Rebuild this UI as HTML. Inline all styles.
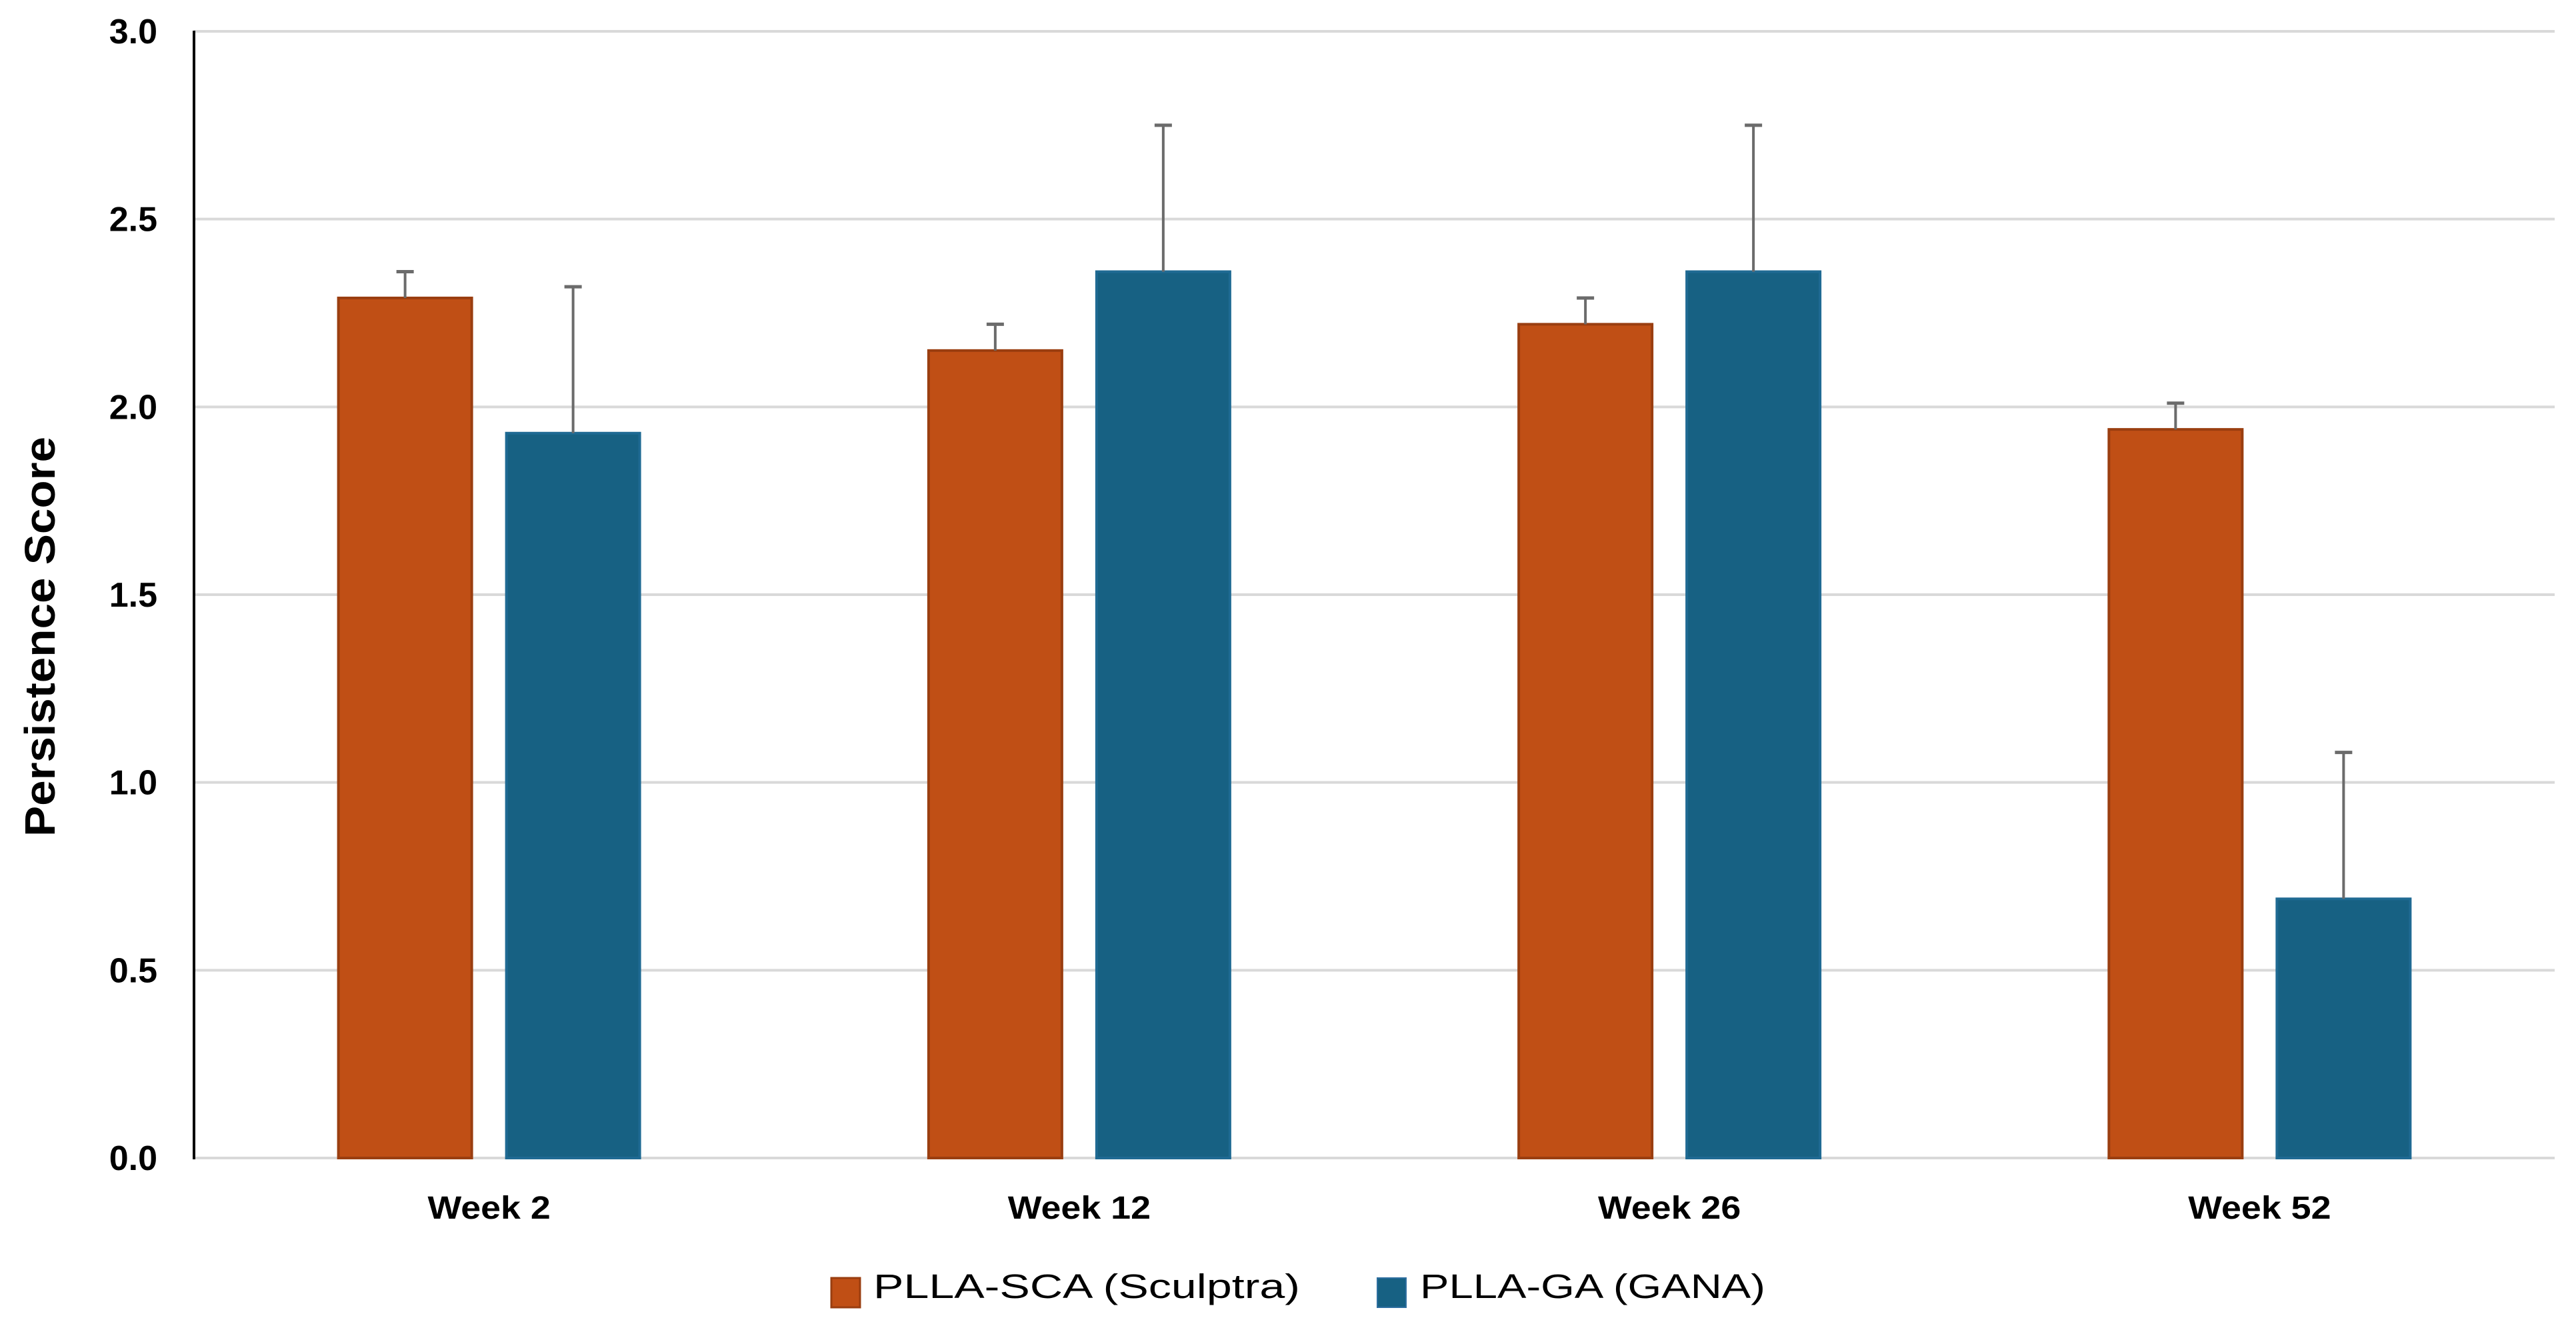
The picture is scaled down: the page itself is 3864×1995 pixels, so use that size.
<!DOCTYPE html>
<html><head><meta charset="utf-8"><style>
html,body{margin:0;padding:0;background:#fff;}
svg{display:block;font-family:"Liberation Sans",Arial,sans-serif;}
</style></head><body>
<svg id="chart" width="3864" height="1995" viewBox="0 0 3864 1995" xmlns="http://www.w3.org/2000/svg">
<rect width="3864" height="1995" fill="#fff"/>
<g id="grid"></g><g id="bars"></g><g id="labels"></g>
<line x1="291" y1="46" x2="291" y2="1739" stroke="#000" stroke-width="4"/>
<text transform="translate(82,955) rotate(-90)" text-anchor="middle" font-size="64" font-weight="bold" fill="#000" textLength="600" lengthAdjust="spacingAndGlyphs">Persistence Score</text>
<g>
<rect x="1247" y="1917" width="43" height="44" fill="#C04F15" stroke="#9A3E10" stroke-width="3"/>
<text x="1310" y="1947" font-size="51" fill="#000" textLength="640" lengthAdjust="spacingAndGlyphs">PLLA-SCA (Sculptra)</text>
<rect x="2066" y="1917" width="43" height="44" fill="#176183" stroke="#2E6FA0" stroke-width="2"/>
<text x="2130" y="1947" font-size="51" fill="#000" textLength="518" lengthAdjust="spacingAndGlyphs">PLLA-GA (GANA)</text>
</g>
</svg>
<script>
const categories = ["Week 2","Week 12","Week 26","Week 52"];
const sculptraValues = [2.29, 2.15, 2.22, 1.94];
const sculptraErrors = [0.07, 0.07, 0.07, 0.07];
const ganaValues = [1.93, 2.36, 2.36, 0.69];
const ganaErrors = [0.39, 0.39, 0.39, 0.39];
const yTicks = [0, 0.5, 1.0, 1.5, 2.0, 2.5, 3.0];
const yTickLabels = ["0.0","0.5","1.0","1.5","2.0","2.5","3.0"];

const NS = "http://www.w3.org/2000/svg";
const X0 = 291, X1 = 3832, Y0 = 1737, Y1 = 47, YMAX = 3;
function yScale(v){ return Y0 - (v / YMAX) * (Y0 - Y1); }
function xCenter(i){ const w = (X1 - X0) / categories.length; return X0 + w * (i + 0.5); }
function mk(tag, attrs, parent){ const e = document.createElementNS(NS, tag); for (const k in attrs) e.setAttribute(k, attrs[k]); parent.appendChild(e); return e; }

const grid = document.getElementById('grid');
const bars = document.getElementById('bars');
const labels = document.getElementById('labels');

yTicks.forEach((t, i) => {
  const y = yScale(t);
  const g = mk('line', {x1: X0, x2: X1, y1: y, y2: y, stroke: '#d9d9d9', 'stroke-width': 4}, grid);
  
  
  const tx = mk('text', {x: 236, y: y + 18, 'text-anchor': 'end', 'font-size': 52, 'font-weight': 'bold', fill: '#000'}, labels);
  tx.textContent = yTickLabels[i];
  
  
});

const BW = 200, GAP = 52;
function drawBar(i, v, err, dx, fill, stroke, name){
  const cx = xCenter(i);
  const x = cx + dx;
  const y = yScale(v);
  const r = mk('rect', {x: x, y: y, width: BW, height: Y0 - y, fill: fill, stroke: stroke, 'stroke-width': 4}, bars);
  
  
  const bx = x + BW / 2, ye = yScale(v + err);
  const l = mk('line', {x1: bx, x2: bx, y1: y, y2: ye, stroke: '#6b6b6b', 'stroke-width': 4}, bars);
  
  
  const c = mk('line', {x1: bx - 13, x2: bx + 13, y1: ye, y2: ye, stroke: '#6b6b6b', 'stroke-width': 5}, bars);
  
  
}
categories.forEach((cat, i) => {
  drawBar(i, sculptraValues[i], sculptraErrors[i], -GAP/2 - BW, '#C04F15', '#9A3E10', 'bar-sculptra-' + (i+1));
  drawBar(i, ganaValues[i], ganaErrors[i], GAP/2, '#176183', '#1F6A93', 'bar-gana-' + (i+1));
  const t = mk('text', {x: xCenter(i), y: 1828, 'text-anchor': 'middle', 'font-size': 48, 'font-weight': 'bold', fill: '#000'}, labels);
  t.textContent = cat;
  
  
  const len = t.getComputedTextLength();
  if (len > 0) { t.setAttribute('textLength', (len * 1.12).toFixed(1)); t.setAttribute('lengthAdjust', 'spacingAndGlyphs'); }
});
</script>
</body></html>
